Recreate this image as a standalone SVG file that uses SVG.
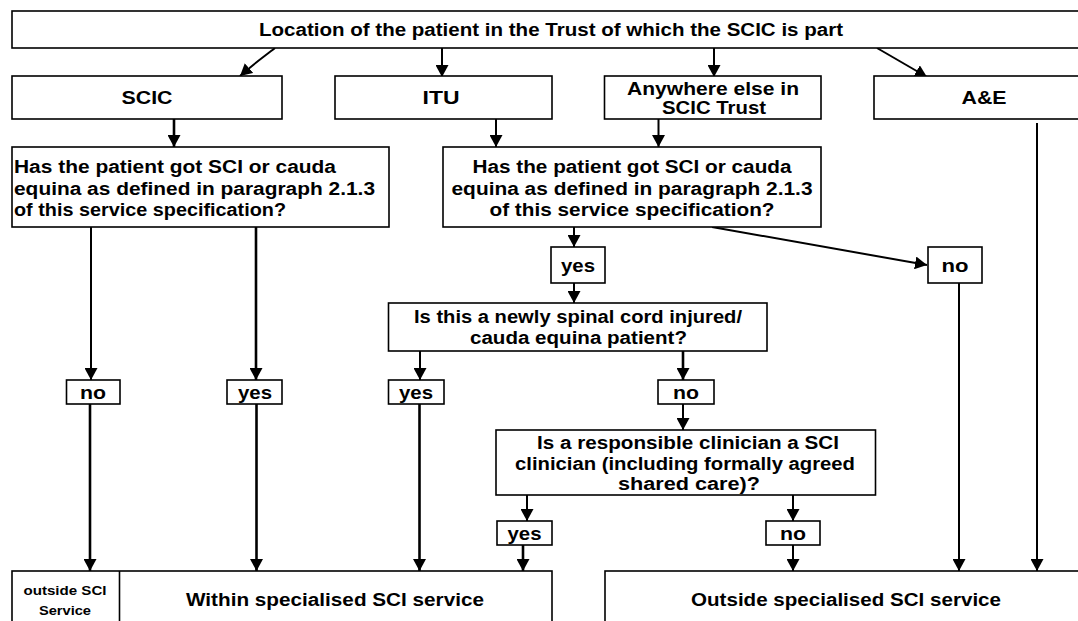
<svg xmlns="http://www.w3.org/2000/svg" width="1078" height="621" viewBox="0 0 1078 621">
<style>
.box{fill:#fff;stroke:#000;stroke-width:1.6}
.t{font-family:"Liberation Sans",Arial,sans-serif;font-weight:bold;font-size:18px;fill:#000}
.c{text-anchor:middle}
.lb{font-size:19px}
.sm{font-size:12px}
.ln{fill:none;stroke:#000;stroke-width:2}
.thk{stroke-width:2.6}
</style>
<defs>
<marker id="ah" markerUnits="userSpaceOnUse" markerWidth="13" markerHeight="13" refX="12" refY="6.5" orient="auto">
<path d="M0,0 L12,6.5 L0,13 z" fill="#000"/>
</marker>
</defs>
<rect width="1078" height="621" fill="#fff"/>
<g id="connectors">
<path class="ln" d="M275,48 C265,56 256,62 240,76" marker-end="url(#ah)"/>
<path class="ln" d="M442,48 V77" marker-end="url(#ah)"/>
<path class="ln" d="M714,48 V77" marker-end="url(#ah)"/>
<path class="ln" d="M877,48 L927,77" marker-end="url(#ah)"/>
<path class="ln thk" d="M174,119 V147" marker-end="url(#ah)"/>
<path class="ln" d="M496,119 V147" marker-end="url(#ah)"/>
<path class="ln" d="M658.5,119 V147" marker-end="url(#ah)"/>
<path class="ln" d="M91,227 V380" marker-end="url(#ah)"/>
<path class="ln thk" d="M256,227 V380" marker-end="url(#ah)"/>
<path class="ln" d="M574,227 V247" marker-end="url(#ah)"/>
<path class="ln" d="M574,283 V303" marker-end="url(#ah)"/>
<path class="ln" d="M712,227 L927,265" marker-end="url(#ah)"/>
<path class="ln" d="M959,283 V571" marker-end="url(#ah)"/>
<path class="ln" d="M1037,123 V571" marker-end="url(#ah)"/>
<path class="ln" d="M420,351 V380" marker-end="url(#ah)"/>
<path class="ln thk" d="M683,351 V380" marker-end="url(#ah)"/>
<path class="ln" d="M683,404 V430" marker-end="url(#ah)"/>
<path class="ln" d="M527,495 V521" marker-end="url(#ah)"/>
<path class="ln" d="M793,495 V521" marker-end="url(#ah)"/>
<path class="ln thk" d="M523,545 V571" marker-end="url(#ah)"/>
<path class="ln" d="M793,545 V571" marker-end="url(#ah)"/>
<path class="ln thk" d="M90,404 V571" marker-end="url(#ah)"/>
<path class="ln thk" d="M256.5,404 V571" marker-end="url(#ah)"/>
<path class="ln thk" d="M419.5,404 V571" marker-end="url(#ah)"/>
</g>
<g id="top">
<rect class="box" x="12" y="11" width="1075" height="37"/>
<text class="t c" x="551" y="36" textLength="584" lengthAdjust="spacingAndGlyphs">Location of the patient in the Trust of which the SCIC is part</text>
</g>
<g id="scic">
<rect class="box" x="12" y="76" width="270" height="43"/>
<text class="t c" x="147" y="104" textLength="51" lengthAdjust="spacingAndGlyphs">SCIC</text>
</g>
<g id="itu">
<rect class="box" x="335" y="76" width="217" height="43"/>
<text class="t c" x="441" y="104" textLength="37" lengthAdjust="spacingAndGlyphs">ITU</text>
</g>
<g id="anywhere">
<rect class="box" x="604.5" y="76" width="216.5" height="43"/>
<text class="t c" x="713" y="95" textLength="172" lengthAdjust="spacingAndGlyphs">Anywhere  else in</text>
<text class="t c" x="714" y="114" textLength="104" lengthAdjust="spacingAndGlyphs">SCIC Trust</text>
</g>
<g id="ae">
<rect class="box" x="874" y="76" width="213" height="43"/>
<text class="t c" x="984" y="104" textLength="45" lengthAdjust="spacingAndGlyphs">A&amp;E</text>
</g>
<g id="q1">
<rect class="box" x="12" y="147" width="377" height="80"/>
<text class="t" x="14" y="173" textLength="322" lengthAdjust="spacingAndGlyphs">Has the patient got SCI or cauda</text>
<text class="t" x="14" y="195" textLength="361" lengthAdjust="spacingAndGlyphs">equina as defined in paragraph 2.1.3</text>
<text class="t" x="14" y="216" textLength="272" lengthAdjust="spacingAndGlyphs">of this service specification?</text>
</g>
<g id="q2">
<rect class="box" x="443" y="147" width="378" height="80"/>
<text class="t c" x="632" y="173" textLength="319" lengthAdjust="spacingAndGlyphs">Has the patient got SCI or cauda</text>
<text class="t c" x="632" y="195" textLength="361" lengthAdjust="spacingAndGlyphs">equina as defined in paragraph 2.1.3</text>
<text class="t c" x="632" y="216" textLength="285" lengthAdjust="spacingAndGlyphs">of this service specification?</text>
</g>
<g id="q2yes">
<rect class="box" x="551" y="247" width="54" height="36"/>
<text class="t c lb" x="578" y="272" textLength="34" lengthAdjust="spacingAndGlyphs">yes</text>
</g>
<g id="q2no">
<rect class="box" x="928" y="247" width="54" height="36"/>
<text class="t c lb" x="955" y="272" textLength="27" lengthAdjust="spacingAndGlyphs">no</text>
</g>
<g id="q3">
<rect class="box" x="388.5" y="303" width="378.5" height="48"/>
<text class="t c" x="578" y="323" textLength="328" lengthAdjust="spacingAndGlyphs">Is this a newly spinal cord injured/</text>
<text class="t c" x="578.5" y="344" textLength="217" lengthAdjust="spacingAndGlyphs">cauda  equina patient?</text>
</g>
<g id="q1no">
<rect class="box" x="66.5" y="380" width="53.5" height="24"/>
<text class="t c lb" x="93" y="399" textLength="26" lengthAdjust="spacingAndGlyphs">no</text>
</g>
<g id="q1yes">
<rect class="box" x="227" y="380" width="55" height="24"/>
<text class="t c lb" x="255" y="399" textLength="34" lengthAdjust="spacingAndGlyphs">yes</text>
</g>
<g id="q3yes">
<rect class="box" x="388.5" y="380" width="55.5" height="24"/>
<text class="t c lb" x="416" y="399" textLength="34" lengthAdjust="spacingAndGlyphs">yes</text>
</g>
<g id="q3no">
<rect class="box" x="658" y="380" width="56" height="24"/>
<text class="t c lb" x="686" y="399" textLength="26" lengthAdjust="spacingAndGlyphs">no</text>
</g>
<g id="q4">
<rect class="box" x="496" y="430" width="379.5" height="65"/>
<text class="t c" x="688" y="449" textLength="302" lengthAdjust="spacingAndGlyphs">Is a responsible clinician a SCI</text>
<text class="t c" x="685" y="470" textLength="340" lengthAdjust="spacingAndGlyphs">clinician (including formally agreed</text>
<text class="t c" x="689" y="490" textLength="142" lengthAdjust="spacingAndGlyphs">shared care)?</text>
</g>
<g id="q4yes">
<rect class="box" x="497" y="521" width="55" height="24"/>
<text class="t c lb" x="524.5" y="540" textLength="34" lengthAdjust="spacingAndGlyphs">yes</text>
</g>
<g id="q4no">
<rect class="box" x="766" y="521" width="54" height="24"/>
<text class="t c lb" x="793" y="540" textLength="26" lengthAdjust="spacingAndGlyphs">no</text>
</g>
<g id="within">
<rect class="box" x="12" y="571" width="540" height="60"/>
<line x1="119.5" y1="571" x2="119.5" y2="631" stroke="#000" stroke-width="1.6"/>
<text class="t c sm" x="65" y="595" textLength="83" lengthAdjust="spacingAndGlyphs">outside SCI</text>
<text class="t c sm" x="65" y="615" textLength="52" lengthAdjust="spacingAndGlyphs">Service</text>
<text class="t c" x="335" y="606" textLength="298" lengthAdjust="spacingAndGlyphs">Within specialised SCI service</text>
</g>
<g id="outside">
<rect class="box" x="605" y="571" width="482" height="60"/>
<text class="t c" x="846" y="606" textLength="310" lengthAdjust="spacingAndGlyphs">Outside specialised SCI service</text>
</g>
</svg>
